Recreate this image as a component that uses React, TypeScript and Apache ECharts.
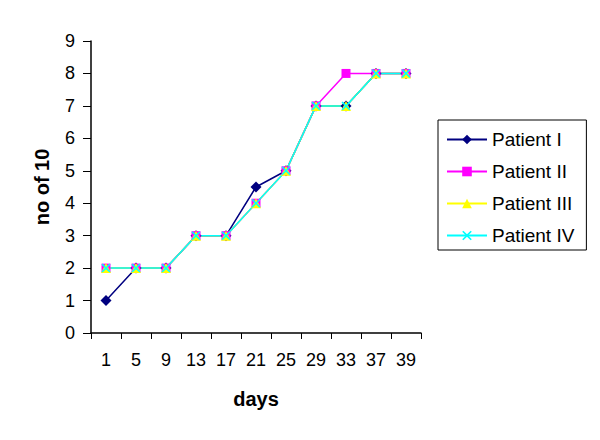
import React, { useEffect, useRef } from "react";
import * as echarts from "echarts";

const days = ["1", "5", "9", "13", "17", "21", "25", "29", "33", "37", "39"];
const patientI = [1, 2, 2, 3, 3, 4.5, 5, 7, 7, 8, 8];
const patientII = [2, 2, 2, 3, 3, 4, 5, 7, 8, 8, 8];
const patientIII = [2, 2, 2, 3, 3, 4, 5, 7, 7, 8, 8];
const patientIV = [2, 2, 2, 3, 3, 4, 5, 7, 7, 8, 8];
const seriesNames = ["Patient I", "Patient II", "Patient III", "Patient IV"];
const yTicks = [0, 1, 2, 3, 4, 5, 6, 7, 8, 9];

const xSymbol =
  "path://M0,1.2L1.2,0L5,3.8L8.8,0L10,1.2L6.2,5L10,8.8L8.8,10L5,6.2L1.2,10L0,8.8L3.8,5Z";

export default function App() {
  const ref = useRef<HTMLDivElement>(null);
  useEffect(() => {
    if (!ref.current) return;
    const chart = echarts.init(ref.current, null, { renderer: "svg" });
    const font = "Arial, 'Liberation Sans', sans-serif";
    const mk = (
      name: string,
      data: number[],
      color: string,
      symbol: string,
      size: number
    ) => ({
      name,
      type: "line",
      data,
      symbol,
      symbolSize: size,
      showAllSymbol: true,
      lineStyle: { color, width: 1.5 },
      itemStyle: { color, borderWidth: 0 },
      emphasis: { disabled: true },
    });
    chart.setOption({
      animation: false,
      backgroundColor: "#ffffff",
      textStyle: { fontFamily: font },
      grid: { left: 91, top: 41, width: 330, height: 292 },
      legend: {
        orient: "vertical",
        left: 438,
        top: 120,
        data: seriesNames,
        itemWidth: 40,
        itemHeight: 12,
        itemGap: 13,
        padding: [10, 12, 5, 8],
        borderColor: "#000",
        borderWidth: 1,
        textStyle: { fontSize: 19, color: "#000", fontFamily: font },
      },
      xAxis: {
        type: "category",
        data: days,
        boundaryGap: true,
        name: "days",
        nameLocation: "middle",
        nameGap: 56,
        nameTextStyle: { fontSize: 20, fontWeight: "bold", color: "#000" },
        axisLine: { lineStyle: { color: "#000", width: 1.5 } },
        axisTick: { show: true, length: 6, alignWithLabel: false, lineStyle: { color: "#000" } },
        axisLabel: { fontSize: 18, color: "#000", margin: 18 },
        splitLine: { show: false },
      },
      yAxis: {
        type: "value",
        min: yTicks[0],
        max: yTicks[yTicks.length - 1],
        interval: 1,
        name: "no of 10",
        nameLocation: "middle",
        nameGap: 39,
        nameRotate: 90,
        nameTextStyle: { fontSize: 20, fontWeight: "bold", color: "#000" },
        axisLine: { show: true, lineStyle: { color: "#000", width: 1.5 } },
        axisTick: { show: true, length: 8, lineStyle: { color: "#000" } },
        axisLabel: { fontSize: 18, color: "#000", margin: 16 },
        splitLine: { show: false },
      },
      series: [
        mk(seriesNames[0], patientI, "#000080", "diamond", 11),
        mk(seriesNames[1], patientII, "#FF00FF", "rect", 9),
        mk(seriesNames[2], patientIII, "#FFFF00", "triangle", 10),
        mk(seriesNames[3], patientIV, "#00FFFF", xSymbol, 9),
      ],
    });
    return () => chart.dispose();
  }, []);
  return (
    <div
      ref={ref}
      style={{ position: "fixed", left: 0, top: 0, width: 600, height: 440, background: "#fff" }}
    />
  );
}
